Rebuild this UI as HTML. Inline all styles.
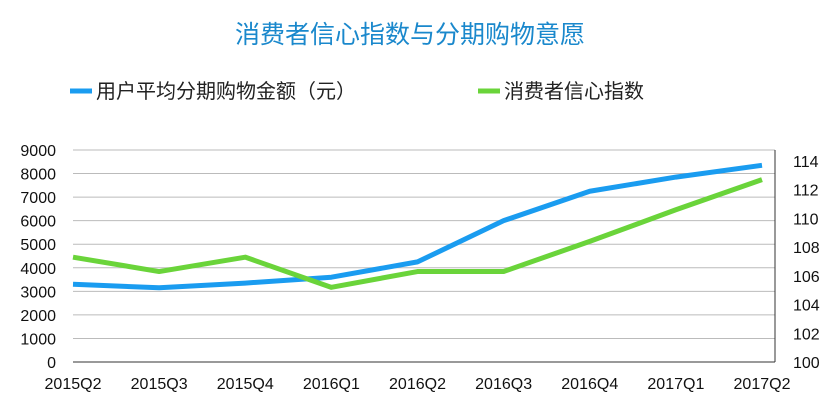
<!DOCTYPE html>
<html><head><meta charset="utf-8"><style>
body{margin:0;background:#fff;font-family:"Liberation Sans","Noto Sans CJK SC",sans-serif;}
</style></head><body>
<svg width="837" height="414" xmlns="http://www.w3.org/2000/svg" font-family="Liberation Sans, Noto Sans CJK SC, sans-serif">
<text x="410" y="43" text-anchor="middle" font-size="25" fill="#1a88cc">消费者信心指数与分期购物意愿</text>
<g>
<line x1="70" y1="91" x2="92" y2="91" stroke="#1a9cf0" stroke-width="5"/>
<text x="96" y="98" font-size="20" fill="#222">用户平均分期购物金额（元）</text>
<line x1="478" y1="91" x2="500" y2="91" stroke="#6ad43a" stroke-width="5"/>
<text x="504" y="98" font-size="20" fill="#222">消费者信心指数</text>
</g>
<g id="grid"></g><g id="axes"></g><g id="series"></g>
</svg>
<script>
const categories=["2015Q2","2015Q3","2015Q4","2016Q1","2016Q2","2016Q3","2016Q4","2017Q1","2017Q2"];
const amountValues=[3300,3150,3350,3600,4250,6000,7250,7850,8350];
const indexValues=[107.3,106.3,107.3,105.2,106.3,106.3,108.4,110.6,112.7];
const leftTicks=[0,1000,2000,3000,4000,5000,6000,7000,8000,9000];
const rightTicks=[100,102,104,106,108,110,112,114];
const NS="http://www.w3.org/2000/svg";
const X0=73,X1=762,YB=362,YT=150;
const xs=i=>X0+(X1-X0)*i/(categories.length-1);
const yl=v=>YB-(YB-YT)*v/9000;
const yr=v=>YB-(v-100)*14.36;
function mk(p,t,a){const e=document.createElementNS(NS,t);for(const k in a)e.setAttribute(k,a[k]);p.appendChild(e);return e;}
const grid=document.getElementById('grid'),axes=document.getElementById('axes'),ser=document.getElementById('series');
leftTicks.forEach(v=>{
 const l=mk(grid,'line',{x1:X0,x2:775,y1:yl(v),y2:yl(v),stroke:v===0?'#333':'#bbb','stroke-width':1});
 
 
 const t=mk(axes,'text',{x:56,y:yl(v)+6,'text-anchor':'end','font-size':16,fill:'#111'});t.textContent=v;
 
 
});
const ax=mk(axes,'line',{x1:775,x2:775,y1:YT,y2:YB,stroke:'#333','stroke-width':1});


rightTicks.forEach(v=>{
 const t=mk(axes,'text',{x:793,y:yr(v)+6,'font-size':16,fill:'#111'});t.textContent=v;
 
 
});
categories.forEach((c,i)=>{
 const t=mk(axes,'text',{x:xs(i),y:389,'text-anchor':'middle','font-size':16,fill:'#111'});t.textContent=c;
 
 
});
const p1=mk(ser,'polyline',{points:amountValues.map((v,i)=>xs(i)+','+yl(v)).join(' '),fill:'none',stroke:'#1a9cf0','stroke-width':5,'stroke-linejoin':'round'});


const p2=mk(ser,'polyline',{points:indexValues.map((v,i)=>xs(i)+','+yr(v)).join(' '),fill:'none',stroke:'#6ad43a','stroke-width':5,'stroke-linejoin':'round'});


</script>
</body></html>
